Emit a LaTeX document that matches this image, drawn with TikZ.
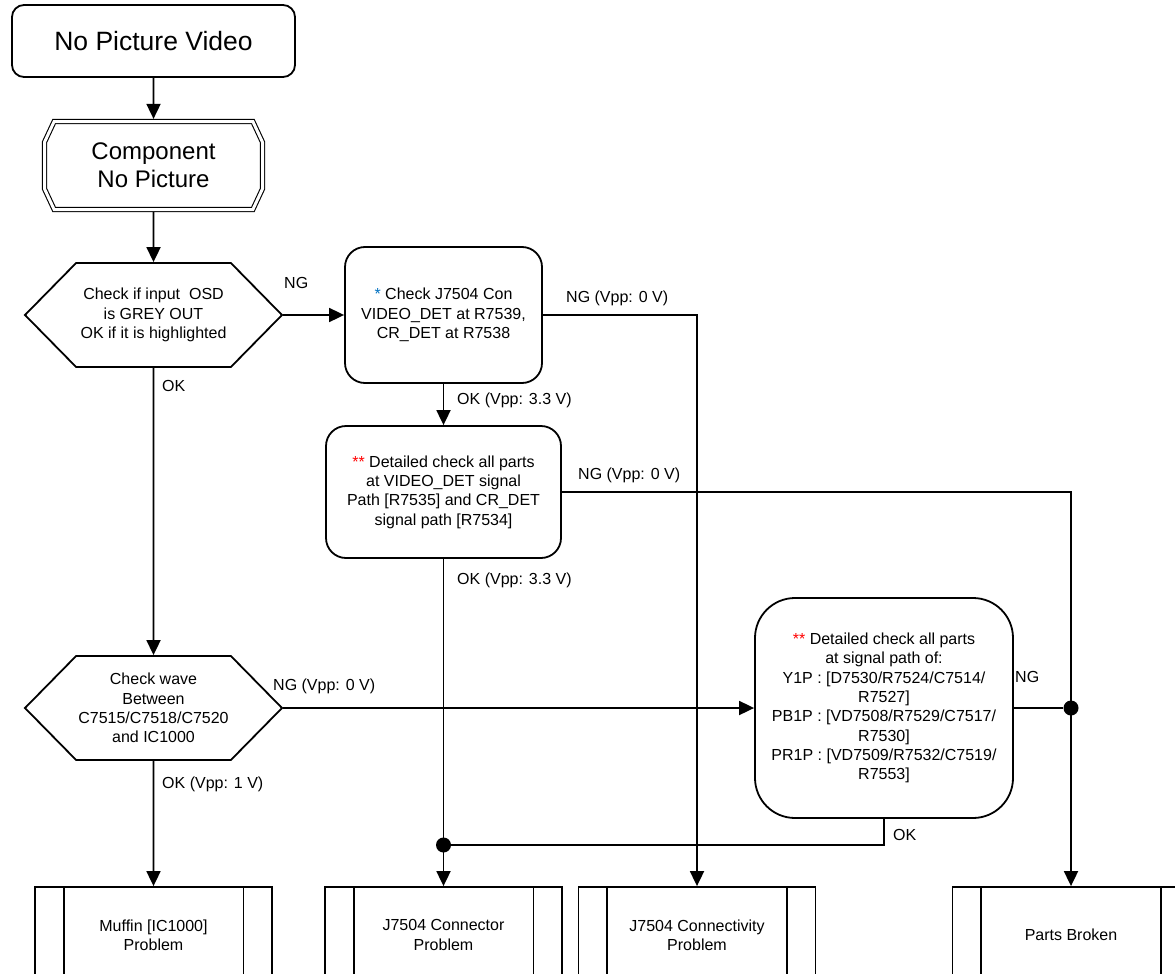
\documentclass[tikz,border=0pt]{standalone}
\usepackage{fontspec}
\setmainfont{Liberation Sans}
\usepackage{xcolor}
\definecolor{flowblue}{RGB}{0,112,192}
\definecolor{flowred}{RGB}{255,0,0}
\usetikzlibrary{shapes.geometric,shapes.misc,shapes.symbols,arrows.meta,calc}

\begin{document}
\begin{tikzpicture}[x=1pt, y=-1pt,
    flowline/.style={line width=1.8pt, -{Triangle[length=15pt,width=14pt]}},
    plainline/.style={line width=1.8pt},
    txt/.style={font=\fontsize{16}{19.3}\selectfont, align=center},
    lab/.style={font=\fontsize{16}{19.3}\selectfont, anchor=west, inner sep=0pt},
    startbox/.style={draw, line width=1.8pt, rectangle, rounded corners=12pt, minimum width=283pt, minimum height=72pt, font=\fontsize{26.5}{30}\selectfont},
    subbox/.style={draw, double, line width=1.1pt, double distance=3pt, chamfered rectangle, chamfered rectangle angle=25, chamfered rectangle xsep=8pt, minimum width=218pt, minimum height=88pt, outer sep=2.6pt, align=center, font=\fontsize{24}{28}\selectfont},
    decision/.style={draw, line width=1.8pt, signal, signal to=east and west, signal pointer angle=91, minimum width=257pt, minimum height=104pt, inner sep=0pt, txt},
    procbox/.style={draw, line width=1.8pt, rectangle, rounded corners=20pt, txt},
    endbox/.style={draw, line width=1.8pt, rectangle, minimum width=237pt, minimum height=96pt, txt},
    junction/.style={circle, fill, inner sep=0pt, minimum size=15pt}
]
    \useasboundingbox (0, 0) rectangle (1175, 974);
    \clip (0, 0) rectangle (1175, 974);

    % Start and component entry
    \node[startbox] (start) at (153.5, 41) {No Picture Video};
    \node[subbox] (comp) at (153.5, 165.5) {Component\\No Picture};

    % Decisions
    \node[decision] (osd) at (153.5, 315) {Check if input\ \ OSD\\is GREY OUT\\OK if it is highlighted};
    \node[decision] (wave) at (153.5, 708) {Check wave\\Between\\C7515/C7518/C7520\\and IC1000};

    % Checks
    \node[procbox, minimum width=197pt, minimum height=136pt] (con) at (443.5, 315)
        {{\color{flowblue}*} Check J7504 Con\\VIDEO\_DET at R7539,\\CR\_DET at R7538};
    \node[procbox, minimum width=235pt, minimum height=132pt] (det) at (443.5, 492)
        {{\color{flowred}**} Detailed check all parts\\at VIDEO\_DET signal\\Path [R7535] and CR\_DET\\signal path [R7534]};
    \node[procbox, rounded corners=40pt, minimum width=258pt, minimum height=220pt] (parts) at (884, 708)
        {{\color{flowred}**} Detailed check all parts\\at signal path of:\\Y1P : [D7530/R7524/C7514/\\R7527]\\PB1P : [VD7508/R7529/C7517/\\R7530]\\PR1P : [VD7509/R7532/C7519/\\R7553]};

    % Results
    \foreach \nm/\x/\txt in {muffin/153.5/{Muffin [IC1000]\\Problem}, connector/443.5/{J7504 Connector\\Problem}, connectivity/697/{J7504 Connectivity\\Problem}, broken/1071/{Parts Broken}} {
        \node[endbox] (\nm) at (\x, 935) {\txt};
        \draw[plainline] ([xshift=29.5pt]\nm.north west) -- ([xshift=29.5pt]\nm.south west);
        \draw[plainline] ([xshift=-29.5pt]\nm.north east) -- ([xshift=-29.5pt]\nm.south east);
    }

    % Junctions
    \node[junction] (jA) at (443.5, 845) {};
    \node[junction] (jB) at (1071, 708) {};

    % Connections
    \draw[flowline] (start) -- (comp);
    \draw[flowline] (comp) -- (osd);
    \draw[flowline] (osd.east) -- (con.west);
    \draw[flowline] (osd) -- (wave);
    \draw[flowline] (con) -- (det);
    \draw[flowline] (con.east) -| (connectivity.north);
    \draw[flowline] (det.east) -| (broken.north);
    \draw[flowline] (det) -- (connector);
    \draw[flowline] (wave.east) -- (parts.west);
    \draw[flowline] (wave) -- (muffin);
    \draw[plainline] (parts.east) -- (jB);
    \draw[plainline] (parts.south) |- (jA);

    % Labels
    \node[lab] (ngosd) at (284, 283) {NG};
    \node[lab] (okosd) at (162, 386) {OK};
    \node[lab] (ngcon) at (566, 298) {NG (Vpp: 0 V)};
    \node[lab] (okcon) at (457, 400) {OK (Vpp: 3.3 V)};
    \node[lab] (ngdet) at (578, 475) {NG (Vpp: 0 V)};
    \node[lab] (okdet) at (457, 580) {OK (Vpp: 3.3 V)};
    \node[lab] (ngwave) at (273, 686) {NG (Vpp: 0 V)};
    \node[lab] (okwave) at (162, 784) {OK (Vpp: 1 V)};
    \node[lab] (ngparts) at (1015, 677) {NG};
    \node[lab] (okparts) at (893, 835) {OK};
\end{tikzpicture}
\end{document}
